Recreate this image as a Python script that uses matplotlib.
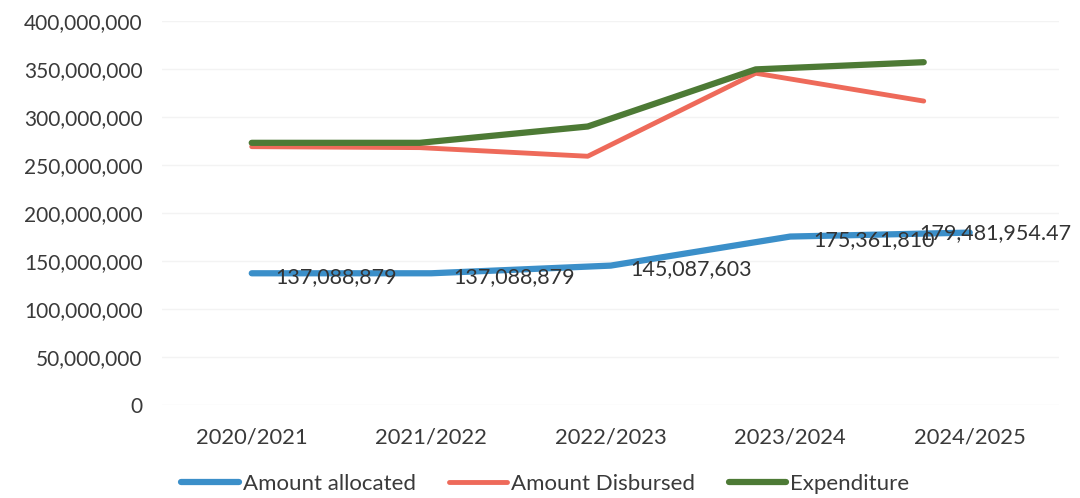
import matplotlib
matplotlib.use("Agg")
import matplotlib.pyplot as plt
import numpy as np

plt.rcParams['font.family'] = ['Lato', 'DejaVu Sans']

years = ["2020/2021", "2021/2022", "2022/2023", "2023/2024", "2024/2025"]
allocated = [137088879, 137088879, 145087603, 175361810, 179481954.47]
disbursed = [269000000, 268000000, 259000000, 345500000, 316500000]
expenditure = [273000000, 273000000, 290000000, 349500000, 357000000]
alloc_labels = ["137,088,879", "137,088,879", "145,087,603", "175,361,810", "179,481,954.47"]

fig = plt.figure(figsize=(10.8, 4.98), dpi=100)
ax = fig.add_axes([0.150, 0.187, 0.831, 0.771])

x = np.arange(len(years))

# red / green series sit on a slightly compressed x scale in the source picture
ax2 = ax.twiny()
ax2.set_xlim(-0.534, 4.808)
ax2.set_ylim(0, 400000000)
ax2.axis("off")

ax.set_xlim(-0.5, 4.5)
ax.set_ylim(0, 400000000)
ax.set_yticks(np.arange(0, 400000001, 50000000))
ax.yaxis.set_major_formatter(matplotlib.ticker.FuncFormatter(lambda v, p: f"{int(v):,}"))
ax.set_xticks(x)
ax.set_xticklabels(years)
ax.grid(axis="y", color="#f3f3f3", linewidth=1)
ax.set_axisbelow(True)
for s in ax.spines.values():
    s.set_visible(False)
ax.tick_params(length=0, labelsize=15, colors="#3a3a3a")
ax.tick_params(axis="x", labelsize=15.8, pad=16)
ax.tick_params(axis="y", pad=14)

l1, = ax.plot(x, allocated, color="#3b8fc9", linewidth=4.5, label="Amount allocated", solid_capstyle="round")
l2, = ax2.plot(x, disbursed, color="#ee6a5a", linewidth=3.5, label="Amount Disbursed", solid_capstyle="round")
l3, = ax2.plot(x, expenditure, color="#4d7a35", linewidth=4.5, label="Expenditure", solid_capstyle="round")

offsets = [(24, -4), (22, -4), (20, -3), (23, -4), (-50, -1)]
for xi, v, t, off in zip(x, allocated, alloc_labels, offsets):
    ax.annotate(t, (xi, v), xytext=off, textcoords="offset pixels",
                ha="left", va="center", fontsize=15.5, color="#333333")

fig.legend([l1, l2, l3], ["Amount allocated", "Amount Disbursed", "Expenditure"],
           loc="center", bbox_to_anchor=(0.505, 0.028), ncol=3, frameon=False,
           fontsize=16, handlelength=2.6, handletextpad=0.18, columnspacing=1.5,
           labelcolor="#3a3a3a")

fig.savefig("out.png", dpi=100)
